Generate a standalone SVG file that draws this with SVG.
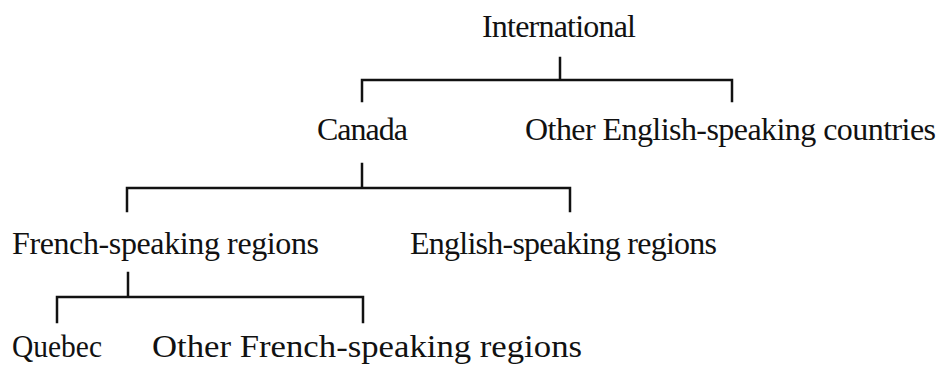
<svg xmlns="http://www.w3.org/2000/svg" width="943" height="365" viewBox="0 0 943 365">
<style>
.t{font-family:"Liberation Serif","Times New Roman",serif;font-size:32px;fill:#111}
.c{fill:none;stroke:#111;stroke-width:2.5;stroke-linecap:square;stroke-linejoin:miter}
</style>
<rect width="943" height="365" fill="#fff"/>
<g id="connectors">
<path class="c" d="M560,58 V80 M362,101 V80 H732 V101"/>
<path class="c" d="M362,164 V188 M127,211 V188 H570 V211"/>
<path class="c" d="M128,273 V297 M57,322 V297 H363 V322"/>
</g>
<g id="n-international"><text class="t" x="482" y="37" textLength="154">International</text></g>
<g id="n-canada"><text class="t" x="317" y="140" textLength="91">Canada</text></g>
<g id="n-other-english"><text class="t" x="525" y="140" textLength="411">Other English-speaking countries</text></g>
<g id="n-french-regions"><text class="t" x="12" y="254" textLength="307">French-speaking regions</text></g>
<g id="n-english-regions"><text class="t" x="410" y="254" textLength="307">English-speaking regions</text></g>
<g id="n-quebec"><text class="t" x="12" y="357" textLength="90" lengthAdjust="spacingAndGlyphs">Quebec</text></g>
<g id="n-other-french"><text class="t" x="152" y="357" textLength="430" lengthAdjust="spacingAndGlyphs">Other French-speaking regions</text></g>
</svg>
